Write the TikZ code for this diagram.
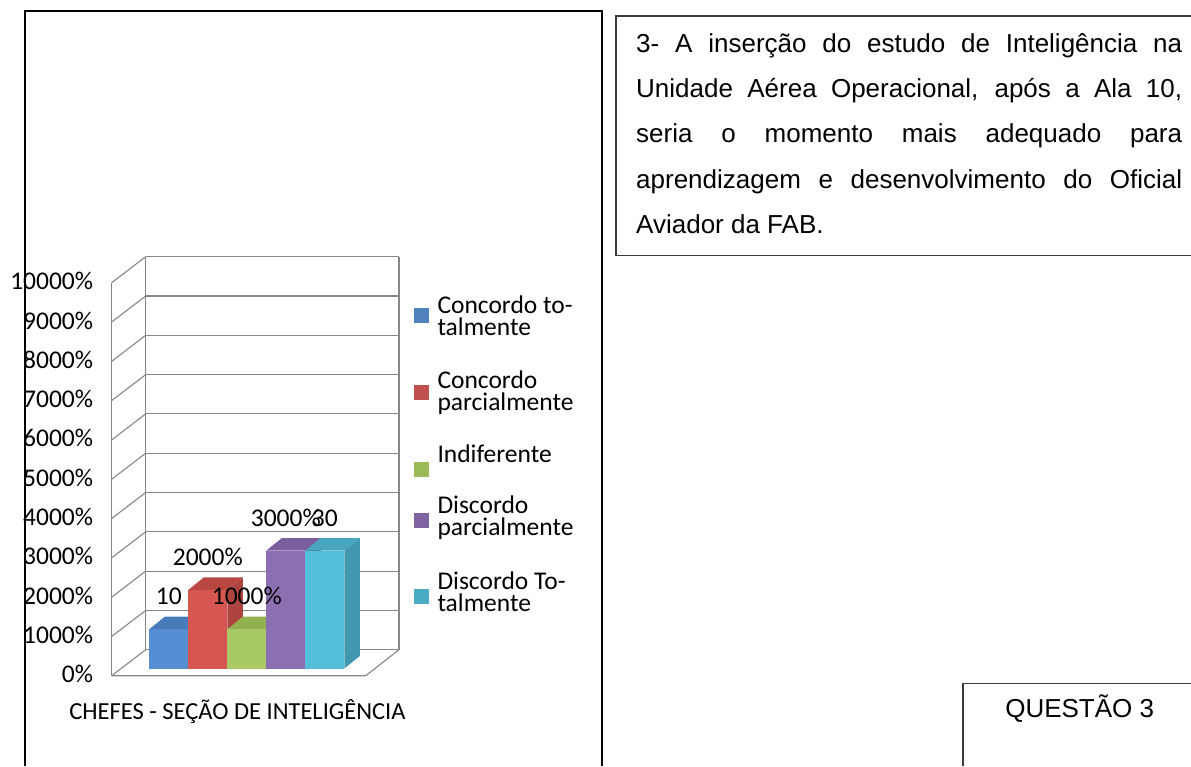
\documentclass[tikz,border=0pt]{standalone}
\usepackage{fontspec}
\setmainfont{Carlito}
\newfontfamily\arialfont{Liberation Sans}
\usetikzlibrary{positioning}
\definecolor{gridgray}{RGB}{134,134,134}
\definecolor{boxgray}{RGB}{60,60,60}
\definecolor{frontblue}{RGB}{86,142,212}
\definecolor{topblue}{RGB}{72,123,186}
\definecolor{sideblue}{RGB}{62,108,165}
\definecolor{frontred}{RGB}{214,86,82}
\definecolor{topred}{RGB}{186,70,66}
\definecolor{sidered}{RGB}{174,68,64}
\definecolor{frontgreen}{RGB}{168,201,99}
\definecolor{topgreen}{RGB}{146,176,80}
\definecolor{sidegreen}{RGB}{128,156,70}
\definecolor{frontpurple}{RGB}{139,111,178}
\definecolor{toppurple}{RGB}{121,95,157}
\definecolor{sidepurple}{RGB}{104,82,138}
\definecolor{frontcyan}{RGB}{82,190,217}
\definecolor{topcyan}{RGB}{72,166,192}
\definecolor{sidecyan}{RGB}{66,152,176}
\definecolor{keyblue}{RGB}{79,129,189}
\definecolor{keyred}{RGB}{192,80,77}
\definecolor{keygreen}{RGB}{155,187,89}
\definecolor{keypurple}{RGB}{128,100,162}
\definecolor{keycyan}{RGB}{75,172,198}
\tikzstyle{frame} = [draw=black, line width=2pt]
\tikzstyle{thinframe} = [draw=boxgray, line width=1.3pt]
\tikzstyle{gridline} = [draw=gridgray, line width=1.1pt]
\tikzstyle{chartfont} = [font=\fontsize{25.5}{22.4}\selectfont]
\tikzstyle{axislabel} = [chartfont, anchor=base east, inner sep=0pt]
\tikzstyle{datalabel} = [chartfont, anchor=base, inner sep=0pt]
\tikzstyle{keysquare} = [minimum size=15pt, inner sep=0pt]
\tikzstyle{keytext} = [chartfont, anchor=base west, align=left, inner sep=0pt]
\tikzstyle{questiontext} = [anchor=base west, inner sep=0pt, font=\arialfont\fontsize{26}{30}\selectfont]

\begin{document}
\begin{tikzpicture}[x=1pt, y=-1pt]
\useasboundingbox (0,0) rectangle (1191,766);

% frames round the chart, the question and the tag
\draw[frame] (25,766) -- (25,11) -- (602.3,11) -- (602.3,766);
\draw[thinframe] (1191,16) -- (616,16) -- (616,255.5) -- (1191,255.5);
\draw[thinframe] (1191,683.3) -- (963,683.3) -- (963,766);

% walls of the 3d chart
    \def\gstep{39.3};
    \def\wx{145.7}; \def\wy{649.7};
    \def\fx{111.7}; \def\fy{675.7};
  \foreach \k in {0,...,10}
  {
      \draw[gridline] (\wx,\wy-\k*\gstep) -- (399,\wy-\k*\gstep);
      \draw[gridline] (\fx,\fy-\k*\gstep) -- (\wx,\wy-\k*\gstep);
  }
  \draw[gridline] (\fx,\fy) -- (\fx,\fy-10*\gstep);
  \draw[gridline] (\wx,\wy) -- (\wx,\wy-10*\gstep);
  \draw[gridline] (399,\wy) -- (399,\wy-10*\gstep);
  \draw[gridline] (\fx,\fy) -- (365.7,\fy) -- (399,\wy);

  \foreach \k/\label in {0/0\%, 1/1000\%, 2/2000\%, 3/3000\%, 4/4000\%, 5/5000\%, 6/6000\%, 7/7000\%, 8/8000\%, 9/9000\%, 10/10000\%}
      \node[axislabel] (y\k) at (93.3,682.7-\k*\gstep) {\label};

% bars: top, side, front
    \def\bx{149.3}; \def\bw{39}; \def\by{668.5};
    \def\dx{15.5}; \def\dy{-12.5};
  \foreach \i/\h/\col in {0/1/blue, 1/2/red, 2/1/green, 3/3/purple, 4/3/cyan}
  {
      \pgfmathsetmacro\xl{\bx+\i*\bw}
      \pgfmathsetmacro\xr{\xl+\bw}
      \pgfmathsetmacro\yt{\by-\h*\gstep}
      \fill[top\col] (\xl,\yt) -- (\xl+\dx,\yt+\dy) -- (\xr+\dx,\yt+\dy) -- (\xr,\yt) -- cycle;
      \fill[side\col] (\xr,\yt) -- (\xr+\dx,\yt+\dy) -- (\xr+\dx,\by+\dy) -- (\xr,\by) -- cycle;
      \fill[front\col] (\xl,\yt) rectangle (\xr,\by);
  }
  \foreach \i/\h/\label in {0/1/10, 1/2/2000\%, 2/1/1000\%, 3/3/3000\%, 4/3/30}
      \node[datalabel] (v\i) at (\bx+\i*\bw+0.5*\bw,\by-\h*\gstep-24.5) {\label};

  \node[datalabel, font=\fontsize{24.5}{22.4}\selectfont] (categ) at (237.5,719.6) {CHEFES - SEÇÃO DE INTELIGÊNCIA};

% legend (base = last line of the text)
  \foreach \name/\col/\ys/\yb/\label in {k1/blue/315.8/335.7/{Concordo to-\\talmente}, k2/red/392.5/410.7/{Concordo\\parcialmente}, k3/green/469.2/462.7/{Indiferente}, k4/purple/520.5/535.7/{Discordo\\parcialmente}, k5/cyan/596.8/611.7/{Discordo To-\\talmente}}
  {
      \node[keysquare, fill=key\col] (\name) at (421.7,\ys) {};
      \node[keytext] (\name t) at (437.3,\yb) {\label};
  }

% question text, justified lines
  \foreach \name/\yb/\label in {q1/52/{3- A inserção do estudo de Inteligência na}, q2/97.3/{Unidade Aérea Operacional, após a Ala 10,}, q3/142.7/{seria o momento mais adequado para}, q4/188/{aprendizagem e desenvolvimento do Oficial}}
      \node[questiontext] (\name) at (636,\yb) {\makebox[546pt][s]{\label}};
  \node[questiontext] (q5) at (636,233.3) {Aviador da FAB.};

  \node[questiontext, anchor=base] (tag) at (1079.7,717.5) {QUESTÃO 3};

\end{tikzpicture}
\end{document}
